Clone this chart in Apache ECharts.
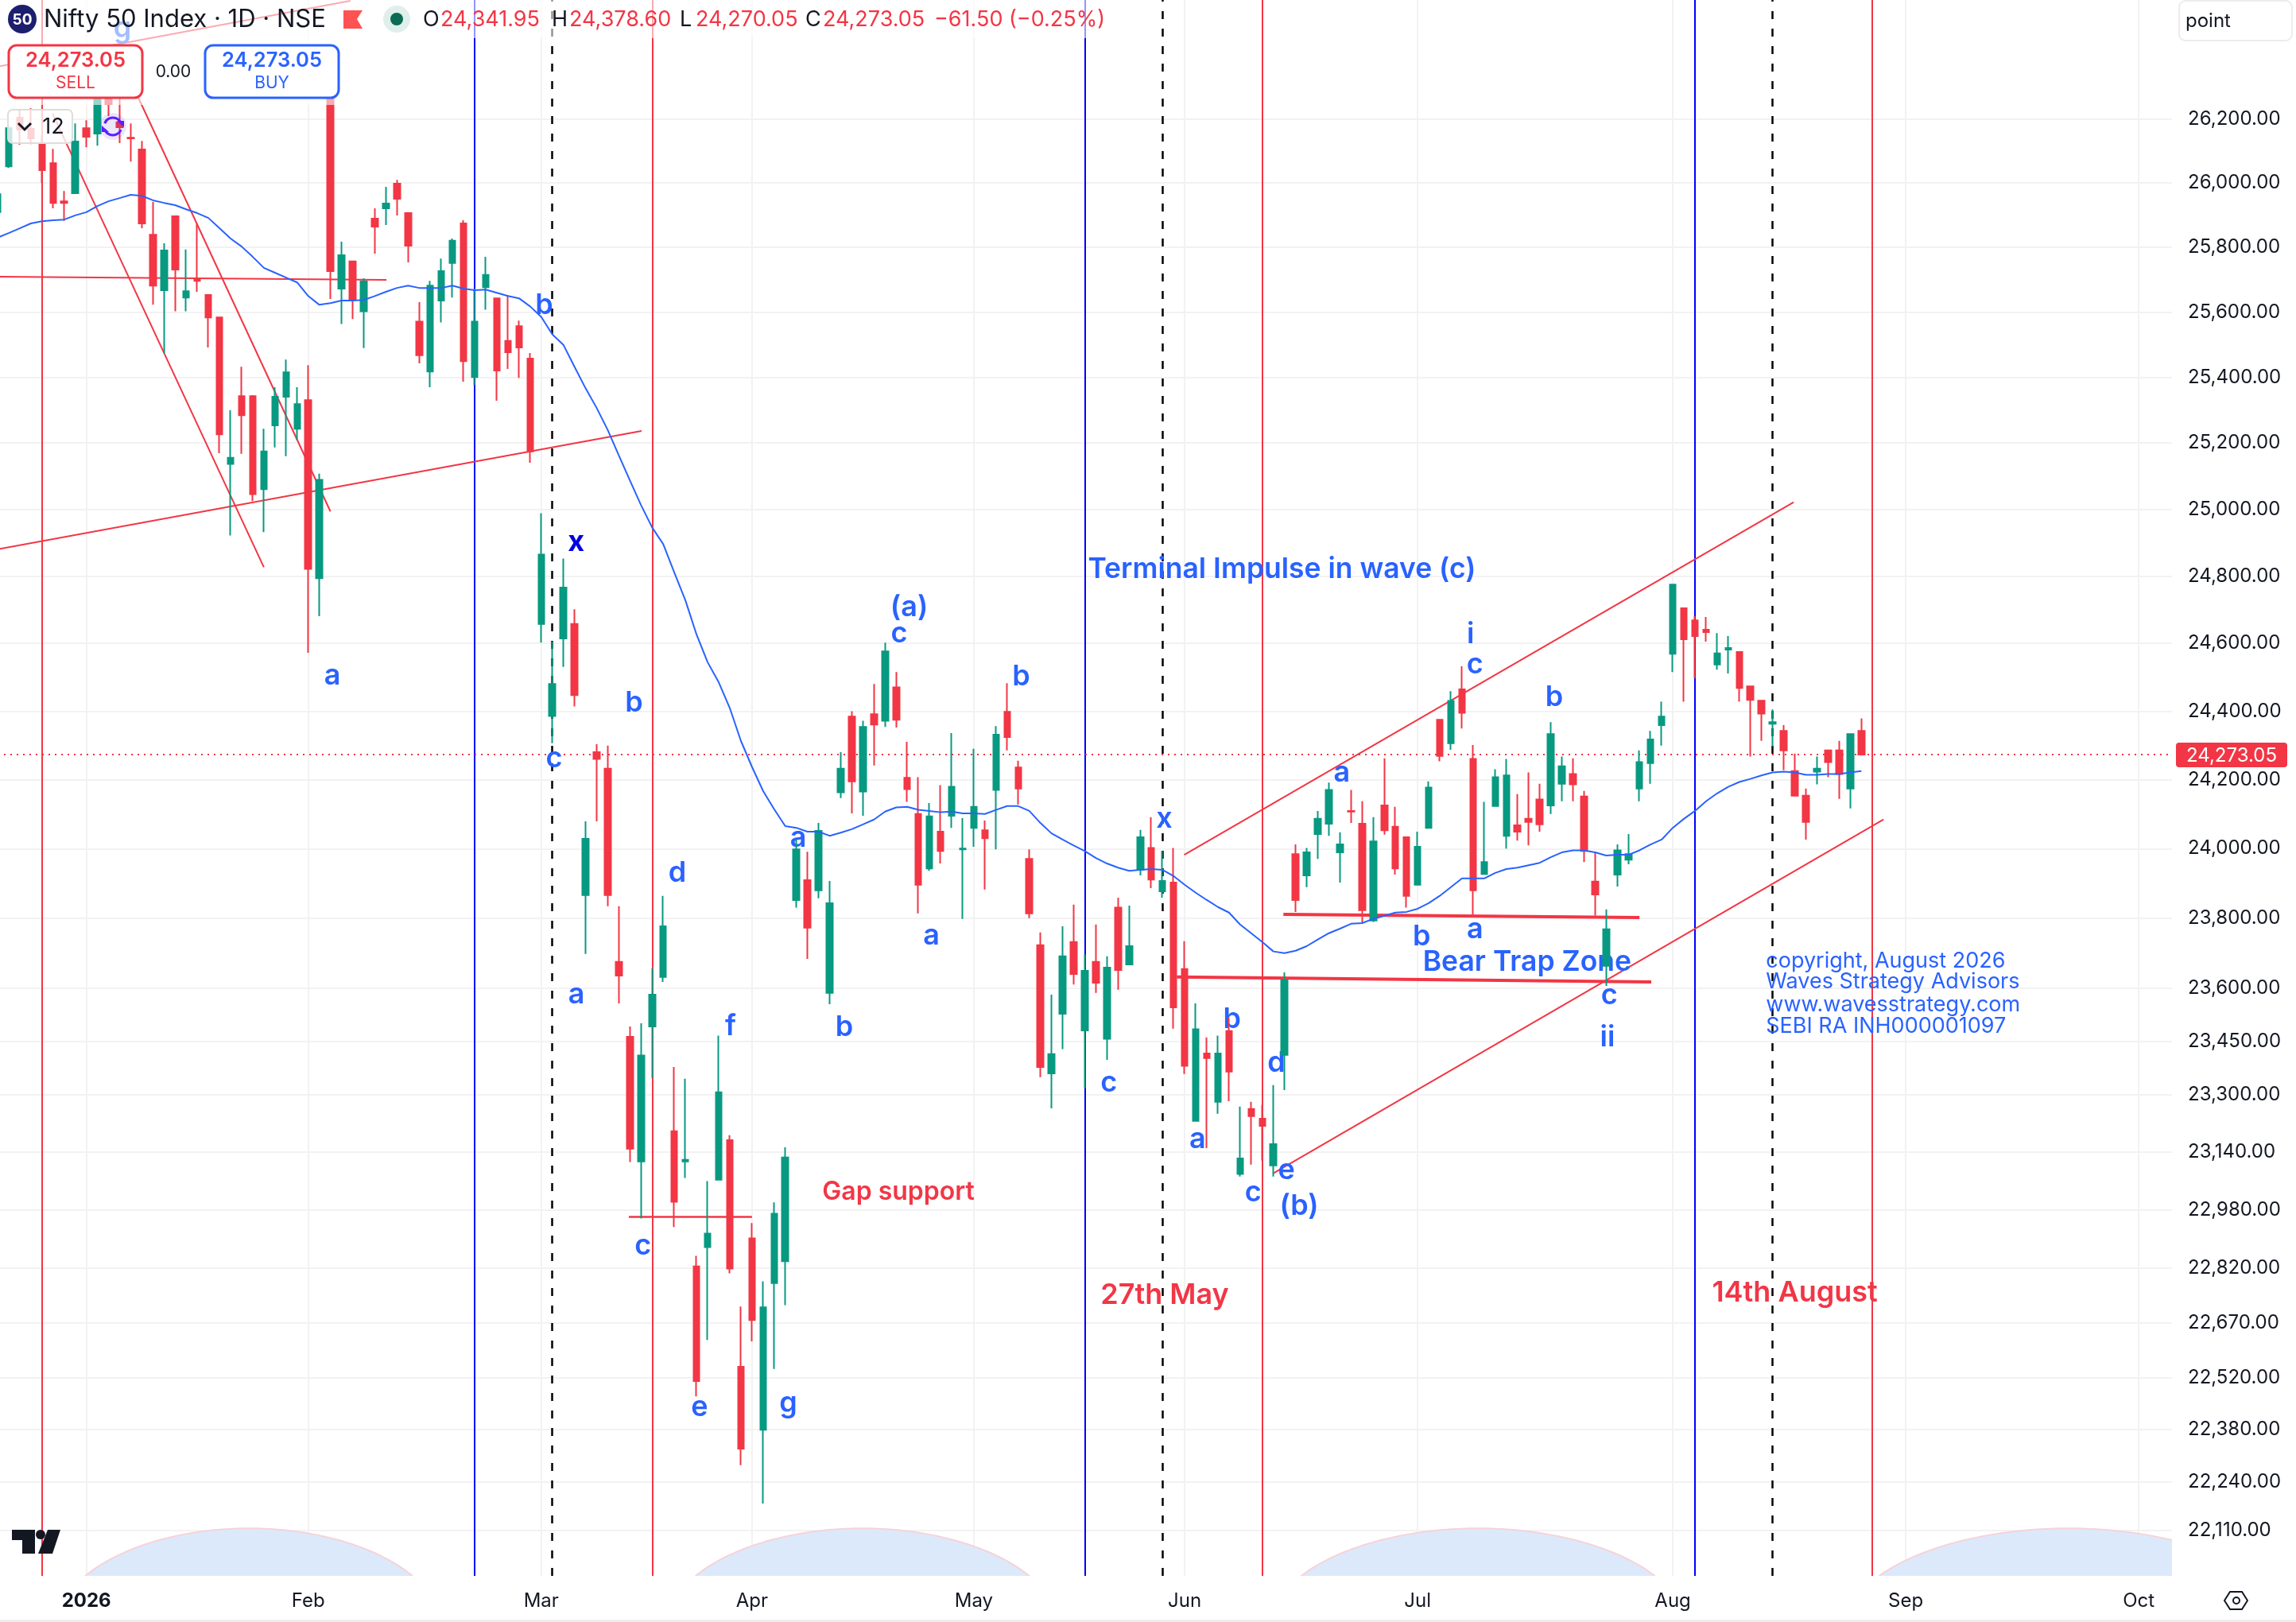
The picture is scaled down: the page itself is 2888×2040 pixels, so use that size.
<!DOCTYPE html>
<html><head><meta charset="utf-8">
<style>html,body{margin:0;padding:0;background:#fff}#c{width:2888px;height:2040px}</style>
<script src="https://cdn.jsdelivr.net/npm/echarts@6/dist/echarts.min.js"></script>
</head><body><div id="c"></div>
<script>
const opens=[25909,26052,26205,26170,26120,26062,25943,25968,26172,26155,
26268,26190,26142,26105,25839,25667,25896,25644,25699,25652,
25583,25136,25342,25342,25060,25253,25340,25243,25330,24793,
26275,25672,25756,25602,25889,25921,25998,25906,25570,25417,
25635,25751,25874,25400,25676,25642,25511,25556,25457,24657,
24386,24614,24657,23866,24280,24232,23675,23463,23114,23492,
23632,23198,23114,22824,22877,23063,23173,22550,22901,22380,
22778,22838,23852,23909,23880,23587,24163,24384,24165,24391,
24372,24470,24205,24100,23943,24049,24095,23998,24060,24053,
24170,24398,24235,23970,23723,23360,23528,23732,23481,23675,
23457,23830,23668,23939,24002,23877,23902,23655,23227,23416,
23280,23479,23079,23260,23233,23103,23412,23984,23923,24042,
24072,23989,24109,24072,23793,24125,24063,24033,23896,24060,
24375,24306,24464,24260,23927,24123,24037,24067,24086,24142,
24125,24188,24216,24151,23905,23664,23925,23968,24174,24248,
24359,24569,24704,24668,24640,24537,24581,24574,24473,24431,
24363,24342,24225,24153,24223,24285,24285,24174,24341.95];
const closes=[25965,26172,26168,26140,26040,25938,25938,26130,26145,26275,
26248,26175,26140,25874,25681,25790,25731,25664,25696,25583,
25226,25155,25284,25045,25174,25340,25415,25318,24821,25088,
25726,25775,25640,25694,25864,25936,25951,25805,25467,25681,
25726,25820,25449,25570,25714,25420,25476,25491,25174,24864,
24480,24765,24447,24028,24260,23866,23636,23149,23410,23582,
23777,23002,23118,22511,22914,23307,22818,22329,22677,22712,
22969,23125,23998,23773,24051,23843,24232,24195,24354,24361,
24576,24375,24172,23896,24093,23993,24179,24000,24121,24030,
24331,24324,24174,23814,23378,23414,23691,23641,23650,23616,
23659,23652,23720,24033,23911,23907,23546,23381,23484,23403,
23416,23365,23122,23240,23213,23162,23623,23852,23989,24086,
24170,24012,24107,23823,24021,24053,23943,23864,24005,24177,
24269,24430,24395,23880,23961,24207,24212,24049,24077,24070,
24333,24239,24186,23993,23868,23768,23995,23984,24251,24317,
24384,24774,24612,24621,24633,24570,24586,24468,24433,24393,
24368,24285,24153,24077,24232,24251,24216,24333,24273.05];
const highs=[25988,26180,26233,26235,26150,26107,25975,26187,26197,26288,
26280,26268,26187,26132,25941,25812,25899,25793,25874,25652,
25585,25299,25432,25345,25243,25369,25454,25369,25437,25107,
26280,25817,25758,25704,25921,25988,26010,25906,25630,25696,
25765,25827,25884,25672,25770,25642,25652,25573,25474,24988,
24605,24852,24701,24079,24303,24299,23834,23492,23501,23657,
23864,23378,23345,22853,23059,23466,23187,22714,22943,22783,
23000,23153,24026,23991,24074,23907,24280,24400,24372,24480,
24602,24515,24310,24207,24132,24184,24336,24088,24290,24081,
24356,24482,24255,23998,23759,23582,23777,23839,23696,23782,
23691,23859,23836,24054,24091,23993,24002,23734,23557,23461,
23466,23517,23267,23280,23271,23327,23645,24012,24002,24109,
24191,24047,24170,24137,24091,24262,24121,24035,24049,24195,
24377,24459,24532,24301,24135,24230,24260,24158,24221,24188,
24368,24267,24262,24167,23991,23825,24012,24042,24285,24342,
24428,24774,24704,24680,24678,24630,24621,24576,24473,24431,
24405,24359,24276,24174,24267,24285,24313,24333,24378.6];
const lows=[25896,26047,26120,26122,26000,25921,25882,25968,26112,26117,
26210,26125,26067,25859,25622,25474,25602,25602,25662,25491,
25169,24921,25167,25024,24931,25186,25160,25209,24572,24680,
25640,25563,25578,25489,25780,25869,25899,25753,25442,25369,
25568,25644,25386,25376,25607,25328,25425,25398,25140,24602,
24306,24530,24414,23698,24079,23834,23557,23112,22956,23347,
23618,22932,23068,22470,22623,23063,22805,22285,22619,22182,
22544,22718,23830,23684,23857,23555,24146,24102,24095,24241,
24354,24352,24135,23814,23936,23957,24060,23798,24005,23882,
23998,24285,24128,23800,23349,23262,23428,23611,23318,23587,
23398,23596,23668,23923,23886,23859,23486,23358,23227,23151,
23247,23282,23072,23105,23116,23072,23313,23818,23889,23970,
24037,23902,24074,23786,23789,24040,23925,23830,23896,24058,
24253,24287,24349,23809,23925,24121,24000,24023,24009,24049,
24100,24137,24137,23961,23807,23607,23891,23955,24137,24188,
24299,24515,24428,24497,24605,24522,24511,24428,24267,24313,
24297,24228,24153,24026,24186,24207,24144,24116,24270.05];
const maValues=[25830,25844,25859,25874,25881,25884,25886,25899,25909,25928,
25943,25953,25963,25960,25946,25938,25931,25918,25906,25891,
25859,25827,25802,25770,25736,25721,25706,25691,25649,25622,
25627,25635,25635,25637,25649,25662,25674,25681,25674,25674,
25674,25681,25672,25667,25669,25659,25649,25642,25617,25585,
25531,25499,25432,25366,25306,25239,25162,25086,25012,24945,
24895,24810,24727,24626,24544,24485,24409,24313,24237,24167,
24114,24065,24060,24049,24049,24037,24046,24056,24070,24084,
24107,24119,24121,24112,24109,24105,24107,24102,24102,24100,
24112,24123,24123,24109,24074,24044,24026,24009,23993,23973,
23957,23945,23936,23939,23941,23939,23921,23896,23873,23852,
23832,23816,23782,23757,23732,23705,23700,23707,23720,23739,
23757,23770,23784,23786,23798,23807,23816,23818,23827,23843,
23864,23889,23914,23914,23914,23930,23941,23945,23952,23959,
23975,23989,23995,23995,23989,23980,23982,23982,23995,24012,
24026,24060,24086,24109,24137,24160,24179,24193,24202,24212,
24221,24223,24221,24214,24214,24216,24216,24221,24225];

const monthTicks=[[8,'2026'],[28,'Feb'],[49,'Mar'],[68,'Apr'],[88,'May'],[107,'Jun'],[128,'Jul'],[151,'Aug'],[172,'Sep'],[193,'Oct']];
const priceTicks=[26200,26000,25800,25600,25400,25200,25000,24800,24600,24400,24200,24000,23800,23600,23450,23300,23140,22980,22820,22670,22520,22380,22240,22110];
const redVerticals=[4,59,114,169];
const blueVerticals=[43,98,153];
const dashedVerticals=[50,105,160];
const lastPrice=24273.05;

const thinTrendlines=[[4.95,26218,24,24826],[12,26320,30,24993],[0.21,25709,35.05,25699],[0.21,24881,58.05,25236],[0.2,26368,31.8,26576],[106.96,23982,161.9,25021],[115,23081,170,24084]];
const thickTrendlines=[[106.3,23632,149.06,23618],[115.9,23811,148,23802]];
const gapLine=[[56.9,22960,68,22960]];

const waveLabels=[[49.2,25622,'b'],[30.1,24506,'a'],[57.3,24426,'b'],[50.1,24264,'c'],[52.1,23584,'a'],[61.2,23932,'d'],[66,23495,'f'],[58.1,22881,'c'],[63.2,22443,'e'],[71.2,22453,'g'],[82.1,24708,'(a)'],[81.2,24631,'c'],[72.1,24033,'a'],[84.1,23752,'a'],[92.2,24504,'b'],[76.25,23492,'b'],[100.1,23336,'c'],[105.1,24088,'x'],[108.1,23178,'a'],[111.2,23515,'b'],[113.1,23030,'c'],[115.2,23390,'d'],[116.1,23090,'e'],[117.25,22991,'(b)'],[121.1,24221,'a'],[128.3,23750,'b'],[133.1,23770,'a'],[132.7,24628,'i'],[133.1,24539,'c'],[140.25,24443,'b'],[145.2,23582,'c'],[145.05,23463,'ii']];
const darkWaveLabels=[[52.15,24900,'x']];
const fadedLabels=[[11.25,26486,'g']];
const blueHeadlines=[[115.7,24826,'Terminal Impulse in wave (c)'],[137.8,23680,'Bear Trap Zone']];
const redHeadlines=[[105.2,22752,'27th May'],[162,22758,'14th August']];
const gapLabel=[[81.2,23035,'Gap support']];
const copyrightLines=[[159.4,23678,'copyright, August 2026'],[159.4,23619,'Waves Strategy Advisors'],[159.4,23553,'www.wavesstrategy.com'],[159.4,23493,'SEBI RA INH000001097']];
const domes=[[7.9,37.4,22116],[62.9,93,22116],[117.5,149.4,22116],[169.6,203.7,22116]];

const RED='#f23645',GREEN='#089981',BLUE='#2962ff',INK='#131722',FONT='Inter';
const categories=Array.from({length:197},(_,j)=>{const t=monthTicks.find(m=>m[0]===j);return t?t[1]:'';});
const candleData=opens.map((o,i)=>[o,closes[i],lows[i],highs[i]]);
const pair=(l,w,c)=>[{coord:[l[0],l[1]],lineStyle:{width:w,color:c,type:'solid'}},{coord:[l[2],l[3]]}];
const vert=(j,c,t,w)=>({xAxis:j,lineStyle:{color:c,type:t,width:w}});
const labelSeries=(data,style,z)=>({type:'scatter',xAxisIndex:1,yAxisIndex:0,symbolSize:0,z:z||3,silent:true,animation:false,data:data,
  itemStyle:{opacity:1},
  label:Object.assign({show:true,position:'inside',fontFamily:FONT,opacity:1,formatter:p=>p.value[2]},style)});

const T=(x,y,text,o)=>({type:'text',z:(o&&o.z)||120,silent:true,style:Object.assign({x,y,text,fontFamily:FONT,fontSize:24,fill:INK,align:'left',verticalAlign:'middle'},o||{})});
const R=(x,y,w,h,r,fill,stroke,lw,z)=>({type:'rect',z:z||110,silent:true,shape:{x,y,width:w,height:h,r},style:{fill,stroke:stroke||null,lineWidth:lw||0}});
const graphics=[
 R(0,0,1400,48,0,'rgba(255,255,255,0.58)'),R(0,48,430,84,0,'rgba(255,255,255,0.58)'),
 {type:'circle',z:120,silent:true,shape:{cx:28,cy:24,r:18},style:{fill:'#1e1e6e'}},
 T(28,25,'50',{fontSize:19,fontWeight:700,fill:'#fff',align:'center'}),
 T(55,25,'Nifty 50 Index · 1D · NSE',{fontSize:31}),
 {type:'polygon',z:120,silent:true,shape:{points:[[432,13],[456,13],[449,24],[456,36],[432,36]]},style:{fill:'#ff5252'}},
 {type:'circle',z:120,silent:true,shape:{cx:499,cy:24,r:17},style:{fill:'#e0efec'}},
 {type:'circle',z:121,silent:true,shape:{cx:499,cy:24,r:8},style:{fill:'#0b6b55'}},
 T(532,25,'O',{fontSize:27}),T(554,25,'24,341.95',{fontSize:27,fill:RED}),
 T(694,25,'H',{fontSize:27}),T(716,25,'24,378.60',{fontSize:27,fill:RED}),
 T(855,25,'L',{fontSize:27}),T(875,25,'24,270.05',{fontSize:27,fill:RED}),
 T(1013,25,'C',{fontSize:27}),T(1035,25,'24,273.05',{fontSize:27,fill:RED}),
 T(1175,25,'−61.50',{fontSize:27,fill:RED}),T(1269,25,'(−0.25%)',{fontSize:27,fill:RED}),
 R(11,57,168,66,10,'#fff',RED,3,115),
 T(95,76,'24,273.05',{fontSize:25.5,fontWeight:600,fill:RED,align:'center'}),
 T(95,105,'SELL',{fontSize:21,fill:RED,align:'center'}),
 T(218,91,'0.00',{fontSize:21,align:'center'}),
 R(258,57,168,66,10,'#fff',BLUE,3,115),
 T(342,76,'24,273.05',{fontSize:25.5,fontWeight:600,fill:BLUE,align:'center'}),
 T(342,105,'BUY',{fontSize:21,fill:BLUE,align:'center'}),
 R(10,138,81,42,6,'rgba(255,255,255,0.78)','#dddddd',2,115),
 {type:'polyline',z:120,silent:true,shape:{points:[[23,155],[31,163],[39,155]]},style:{stroke:INK,lineWidth:3,fill:null}},
 T(67,160,'12',{fontSize:27,align:'center'}),
 {type:'circle',z:116,silent:true,shape:{cx:142,cy:159,r:17},style:{fill:'rgba(98,60,234,0.13)'}},
 {type:'arc',z:120,silent:true,shape:{cx:142,cy:159,r:11,startAngle:3.5,endAngle:5.9},style:{stroke:'#5b1fff',lineWidth:3,fill:null}},
 {type:'arc',z:120,silent:true,shape:{cx:142,cy:159,r:11,startAngle:0.4,endAngle:2.8},style:{stroke:'#5b1fff',lineWidth:3,fill:null}},
 {type:'polygon',z:120,silent:true,shape:{points:[[147,152],[156,152],[156,160]]},style:{fill:'#5b1fff'}},
 {type:'polygon',z:120,silent:true,shape:{points:[[128,158],[128,166],[137,166]]},style:{fill:'#5b1fff'}},
 R(2741,1,142,50,8,'#fff','#ececec',2),
 T(2749,27,'point',{fontSize:24}),
 R(2737,934,140,31,4,RED),
 T(2807,951,'24,273.05',{fontSize:24,fill:'#fff',align:'center'}),
 {type:'polygon',z:120,silent:true,shape:{points:[[15,1924],[44,1924],[44,1954],[28,1954],[28,1937],[15,1937]]},style:{fill:INK}},
 {type:'circle',z:120,silent:true,shape:{cx:51,cy:1930,r:6},style:{fill:INK}},
 {type:'polygon',z:120,silent:true,shape:{points:[[60,1924],[76,1924],[66,1954],[48,1954]]},style:{fill:INK}},
 {type:'polygon',z:120,silent:true,shape:{points:[[2805,2002],[2820,2002],[2827,2013],[2820,2024],[2805,2024],[2798,2013]]},style:{stroke:INK,lineWidth:2,fill:null}},
 {type:'circle',z:120,silent:true,shape:{cx:2813,cy:2013,r:4},style:{stroke:INK,lineWidth:2,fill:null}},
 R(0,2037,2888,3,0,'#eeeeee')
];

const option={
 animation:false,backgroundColor:'#fff',
 grid:{left:-3,right:156,top:0,bottom:58,containLabel:false,outerBoundsMode:'none'},
 xAxis:[
  {type:'category',data:categories,boundaryGap:false,
   axisLine:{show:false},axisTick:{show:false},
   axisLabel:{interval:(i,v)=>v!=='',margin:20,fontSize:24,fontFamily:FONT,color:INK,hideOverlap:false,
     formatter:v=>v==='2026'?'{y|2026}':v,rich:{y:{fontSize:24,fontWeight:700,fontFamily:FONT,color:INK}}},
   splitLine:{show:true,interval:(i,v)=>v!=='',lineStyle:{color:'#f2f2f3',width:2}}},
  {type:'value',min:0,max:196,show:false,splitLine:{show:false}}
 ],
 yAxis:[{type:'log',position:'right',min:21990,max:26578.6,
   axisLine:{show:false},axisTick:{show:false,customValues:priceTicks},
   axisLabel:{customValues:priceTicks,margin:20,padding:[4,0,0,0],fontSize:24,fontFamily:FONT,color:INK,
     formatter:v=>Math.round(v).toLocaleString('en-US',{minimumFractionDigits:2,maximumFractionDigits:2})},
   splitLine:{show:true,lineStyle:{color:'#f2f2f3',width:2}}}],
 graphic:graphics,
 series:[
  {type:'custom',name:'domes',xAxisIndex:1,yAxisIndex:0,z:1,silent:true,clip:true,data:domes,encode:{x:[0,1],y:2},
   renderItem:(params,api)=>{
     const a=api.value(0),b=api.value(1),top=api.value(2);
     const pts=[];const c=0.7,den=1-Math.sqrt(1-c);
     const yBase=params.coordSys.y+params.coordSys.height,yTop=api.coord([a,top])[1];
     for(let i=0;i<=80;i++){
       const f=i/80,t=2*f-1,x=api.coord([a+(b-a)*f,top])[0];
       pts.push([x,yTop+(yBase-yTop)*(1-Math.sqrt(1-c*t*t))/den]);
     }
     return {type:'group',children:[
       {type:'polygon',shape:{points:pts},style:{fill:'#dce9fb'}},
       {type:'polyline',shape:{points:pts},style:{stroke:'#f6d3d8',lineWidth:2,fill:null}}
     ]};
   }},
  {type:'line',name:'drawings',xAxisIndex:1,yAxisIndex:0,z:2,silent:true,showSymbol:false,data:[],
   markLine:{silent:true,symbol:'none',label:{show:false},animation:false,z:2,data:[
     ...redVerticals.map(j=>vert(j,RED,'solid',2)),
     ...blueVerticals.map(j=>vert(j,'#0000ff','solid',2)),
     ...dashedVerticals.map(j=>vert(j,'#000000',[10,12],2.5)),
     {yAxis:lastPrice,lineStyle:{color:RED,type:[2,6],width:2}},
     ...thinTrendlines.map(l=>pair(l,2,RED)),
     ...thickTrendlines.map(l=>pair(l,4,RED)),
     ...gapLine.map(l=>pair(l,2.5,RED))
   ]}},
  labelSeries(waveLabels,{fontSize:36,fontWeight:600,color:BLUE,offset:[1,1]}),
  labelSeries(darkWaveLabels,{fontSize:36,fontWeight:700,color:'#0000e0'}),
  labelSeries(fadedLabels,{fontSize:36,fontWeight:600,color:BLUE}),
  labelSeries(blueHeadlines,{fontSize:35.5,fontWeight:600,color:BLUE,offset:[1,3]}),
  labelSeries(redHeadlines,{fontSize:36,fontWeight:600,color:RED,offset:[0,3]}),
  labelSeries(gapLabel,{fontSize:32,fontWeight:600,color:RED,offset:[0,3]}),
  labelSeries(copyrightLines,{fontSize:27,fontWeight:400,color:BLUE,align:'left'}),
  {type:'candlestick',name:'Nifty 50 Index',xAxisIndex:0,yAxisIndex:0,z:5,barWidth:8,silent:true,data:candleData,
   itemStyle:{color:GREEN,color0:RED,borderColor:GREEN,borderColor0:RED,borderWidth:2}},
  {type:'line',name:'MA',xAxisIndex:0,yAxisIndex:0,z:6,silent:true,showSymbol:false,data:maValues,smooth:false,
   lineStyle:{color:BLUE,width:2}}
 ]
};
const chart=echarts.init(document.getElementById('c'),null,{renderer:'canvas',width:2888,height:2040,devicePixelRatio:1});
chart.setOption(option);
</script></body></html>
